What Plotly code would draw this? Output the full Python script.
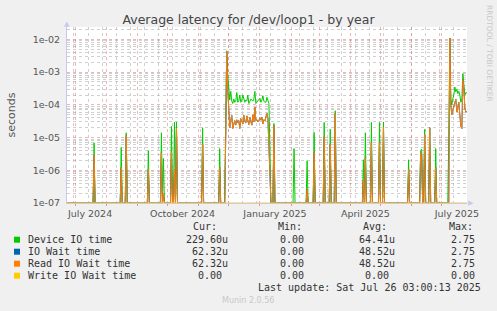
import pandas as pd
import plotly.graph_objects as go

# ---------------- data ----------------
TITLE = "Average latency for /dev/loop1 - by year"
RANGE_START = "2024-06-23 01:00"
RANGE_END = "2025-07-26 03:00"

# isolated one-day spikes (seconds)
spike_dates = ["2024-07-20", "2024-08-16", "2024-08-21", "2024-09-12", "2024-09-25",
               "2024-09-27", "2024-10-05", "2024-10-08", "2024-10-10", "2024-11-05",
               "2024-11-22", "2025-01-15", "2025-02-04", "2025-02-17", "2025-02-24",
               "2025-03-06", "2025-03-12", "2025-03-17", "2025-04-14", "2025-04-16",
               "2025-04-22", "2025-04-30", "2025-05-04", "2025-05-29", "2025-06-10",
               "2025-06-11", "2025-06-14", "2025-06-19", "2025-06-25"]
spike_device = [6.9e-6, 5.0e-6, 1.4e-5, 4.0e-6, 1.4e-5,
                2.3e-6, 2.2e-5, 3.0e-5, 3.0e-5, 2.0e-5,
                4.6e-6, 2.7e-5, 4.6e-6, 1.95e-6, 1.44e-5,
                2.9e-5, 1.8e-5, 6.6e-5, 2.1e-6, 1.4e-5,
                2.9e-5, 2.9e-5, 3.0e-5, 2.1e-6, 4.0e-6,
                4.4e-6, 1.78e-5, 2.0e-5, 4.6e-6]
spike_read = [2.9e-6, 1.2e-6, 1.15e-5, 1.07e-6, 3.5e-6,
              1.9e-7, 3.7e-6, 1.07e-6, 2.0e-5, 6.3e-6,
              1.2e-6, 2.3e-5, 0.0, 2.6e-7, 3.5e-6,
              1.05e-5, 6.3e-6, 5.5e-5, 5.0e-7, 2.4e-6,
              7.0e-6, 7.0e-6, 2.1e-5, 1.07e-6, 3.5e-6,
              3.0e-6, 1.25e-5, 2.0e-5, 1.2e-6]

# busy period Nov 2024 - Jan 2025 (daily, from 2024-11-28)
busy1_start = "2024-11-28"
busy1_device = [3.0e-5, 4.5e-3, 9.0e-4, 2.6e-4, 1.4e-4, 2.6e-4, 1.3e-4, 1.1e-4, 1.5e-4,
                1.2e-4, 1.3e-4, 2.4e-4, 1.2e-4, 1.3e-4, 2.0e-4, 1.2e-4, 1.4e-4, 2.0e-4,
                1.4e-4, 1.2e-4, 1.4e-4, 1.3e-4, 2.0e-4, 1.1e-4, 1.3e-4, 1.5e-4, 1.4e-4,
                1.3e-4, 1.5e-4, 2.6e-4, 1.1e-4, 1.2e-4, 1.4e-4, 1.5e-4, 1.6e-4, 1.2e-4,
                1.4e-4, 1.9e-4, 1.3e-4, 1.2e-4, 1.2e-4, 1.7e-4, 1.2e-4, 1.1e-4, 5.0e-6]
busy1_read = [1.0e-5, 4.4e-3, 3.0e-4, 4.0e-5, 2.0e-5, 3.3e-5, 4.8e-5, 1.9e-5, 2.6e-5,
              3.3e-5, 2.4e-5, 3.5e-5, 2.8e-5, 3.3e-5, 1.9e-5, 3.8e-5, 3.2e-5, 2.6e-5,
              4.8e-5, 3.0e-5, 2.8e-5, 4.6e-5, 3.3e-5, 2.5e-5, 4.2e-5, 3.3e-5, 2.4e-5,
              5.0e-5, 3.0e-5, 8.5e-5, 3.3e-5, 3.5e-5, 3.0e-5, 3.3e-5, 4.0e-5, 3.4e-5,
              4.2e-5, 2.6e-5, 3.5e-5, 3.2e-5, 4.0e-5, 5.5e-5, 3.8e-5, 6.0e-6, 1.0e-6]

# busy period July 2025 (daily, from 2025-07-08)
busy2_start = "2025-07-08"
busy2_device = [1.0e-5, 1.1e-2, 1.5e-4, 1.0e-4, 1.5e-4, 2.0e-4, 3.5e-4, 2.5e-4, 3.0e-4,
                2.2e-4, 2.6e-4, 2.0e-4, 1.2e-4, 1.5e-4, 9.0e-4, 4.5e-4, 2.0e-4, 2.4e-4,
                2.296e-4]
busy2_read = [0.0, 1.1e-2, 1.0e-4, 5.0e-5, 6.6e-5, 8.0e-5, 1.0e-4, 1.5e-4, 6.0e-5,
              9.0e-5, 1.2e-4, 5.0e-5, 2.2e-5, 1.9e-5, 6.0e-4, 3.0e-4, 8.0e-5, 6.0e-5,
              6.232e-5]

series_names = ["Device IO time", "IO Wait time", "Read IO Wait time", "Write IO Wait time"]
series_colors = ["#00CC00", "#0066B3", "#FF8000", "#FFCC00"]
cur_vals = ["229.60u", " 62.32u", " 62.32u", "  0.00 "]
min_vals = ["0.00", "0.00", "0.00", "0.00"]
avg_vals = ["64.41u", "48.52u", "48.52u", "0.00"]
max_vals = ["2.75", "2.75", "2.75", "0.00"]

month_ticks = pd.date_range("2024-07-01", "2025-07-01", freq="MS")
label_ticks = ["2024-07-16", "2024-10-16", "2025-01-16", "2025-04-16", "2025-07-16"]
label_text = ["July 2024", "October 2024", "January 2025", "April 2025", "July 2025"]
week_ticks = pd.date_range("2024-06-30", "2025-07-26", freq="14D")
y_major = [1e-7, 1e-6, 1e-5, 1e-4, 1e-3, 1e-2]
y_major_text = ["1e-07", "1e-06", "1e-05", "1e-04", "1e-03", "1e-02"]
y_minor = [k * m for m in y_major for k in range(2, 10)]

# ---------------- build daily series ----------------
days = pd.date_range("2024-06-22", "2025-07-26", freq="D")
device = pd.Series(0.0, index=days)
read = pd.Series(0.0, index=days)
for d, dv, rv in zip(spike_dates, spike_device, spike_read):
    device[pd.Timestamp(d)] = dv
    read[pd.Timestamp(d)] = rv
for start, dvals, rvals in [(busy1_start, busy1_device, busy1_read),
                            (busy2_start, busy2_device, busy2_read)]:
    idx = pd.date_range(start, periods=len(dvals), freq="D")
    device[idx] = dvals
    read[idx] = rvals
iowait = read.copy()
write = pd.Series(0.0, index=days)

FLOOR = 1e-7  # zero values sit on the bottom edge of the log axis (as rrdtool draws them)

fig = go.Figure()
for name, s, col in zip(series_names, [device, iowait, read, write], series_colors):
    fig.add_trace(go.Scatter(x=s.index, y=s.clip(lower=FLOOR), mode="lines", name=name,
                             line=dict(color=col, width=1), hoverinfo="skip",
                             xaxis="x2" if name.startswith("Write") else "x"))

L, R, T, B = 67, 30, 27, 108
W, H = 497, 311
PW, PH = W - L - R, H - T - B


def px(x):
    return (x - L) / PW


def py(y):
    return (T + PH - y) / PH


grid_red = "rgba(230,120,120,0.55)"
grid_gray = "rgba(170,170,170,0.55)"

fig.update_layout(
    width=W, height=H, margin=dict(l=L, r=R, t=T, b=B),
    paper_bgcolor="#F0F0F0", plot_bgcolor="#FFFFFF", showlegend=False,
    title=dict(text=TITLE, x=0.5, xref="container", xanchor="center",
               y=1 - 19.5 / H, yref="container", yanchor="middle",
               font=dict(family="DejaVu Sans", size=12.5, color="#444444")),
    xaxis=dict(type="date", range=[RANGE_START, RANGE_END], tickmode="array",
               tickvals=list(month_ticks), showticklabels=False,
               showgrid=True, gridcolor=grid_red, griddash="dot", gridwidth=1,
               ticks="outside", ticklen=2, tickcolor="rgba(230,120,120,0.8)",
               minor=dict(tickmode="array", tickvals=list(week_ticks), showgrid=True,
                          gridcolor=grid_gray, griddash="dot", gridwidth=1),
               showline=True, linecolor="#C8C8F0", zeroline=False, fixedrange=True),
    xaxis2=dict(type="date", range=[RANGE_START, RANGE_END], overlaying="x", anchor="y",
                side="bottom", tickmode="array", tickvals=label_ticks, ticktext=label_text,
                showgrid=False, ticks="", ticklabelstandoff=3,
                tickfont=dict(family="DejaVu Sans", size=9.5, color="#555555")),
    yaxis=dict(type="log", range=[-7, -1.62], tickmode="array", tickvals=y_major,
               ticktext=y_major_text, showgrid=True, gridcolor=grid_red, griddash="dot",
               gridwidth=1, ticks="", ticklabelstandoff=4,
               tickfont=dict(family="DejaVu Sans", size=9.5, color="#555555"),
               minor=dict(tickmode="array", tickvals=y_minor, showgrid=True,
                          gridcolor=grid_gray, griddash="dot", gridwidth=1),
               showline=True, linecolor="#C8C8F0", zeroline=False,
               title=dict(text="seconds", standoff=14,
                          font=dict(family="DejaVu Sans", size=11, color="#555555"))),
)

ann = []


def text(x, y, s, anchor="left", size=10, color="#333333", family="DejaVu Sans Mono", angle=0):
    ann.append(dict(x=px(x), y=py(y), xref="paper", yref="paper", text=s, showarrow=False,
                    xanchor=anchor, yanchor="middle", textangle=angle,
                    font=dict(family=family, size=size, color=color)))


# axis arrows
text(67, 24, "▲", anchor="center", size=7, color="#C8C8F0", family="DejaVu Sans")
text(470.5, 203, "▶", anchor="center", size=7, color="#C8C8F0", family="DejaVu Sans")
# rrdtool credit
ann.append(dict(x=(490 - L) / PW, y=py(53), xref="paper", yref="paper",
                text="RRDTOOL / TOBI OETIKER", showarrow=False, textangle=90,
                xanchor="center", yanchor="middle",
                font=dict(family="DejaVu Sans", size=7.5, color="#C8C8C8")))

# legend table
hy = 226.7
for h, x in zip(["Cur:", "Min:", "Avg:", "Max:"], [190.7, 276, 361, 446.7]):
    text(x, hy, h)
row_y = [239.7, 251.7, 263.7, 275.7]
for i, name in enumerate(series_names):
    y = row_y[i]
    text(26, y, name)
    text(184.3, y, cur_vals[i].replace(" ", "&nbsp;"))
    text(306, y, min_vals[i], anchor="right")
    text(397, y, avg_vals[i] if avg_vals[i].endswith("u") else avg_vals[i] + "&nbsp;", anchor="right")
    text(477, y, max_vals[i], anchor="right")
text(483, 287.7, "Last update: Sat Jul 26 03:00:13 2025", anchor="right")
text(248, 300, "Munin 2.0.56", anchor="center", size=8, color="#C8C8C8", family="DejaVu Sans")

shapes = []
for i, col in enumerate(series_colors):
    y = row_y[i]
    shapes.append(dict(type="rect", xref="paper", yref="paper", x0=px(14), x1=px(20),
                       y0=py(y + 3), y1=py(y - 3), fillcolor=col, line=dict(width=0)))

fig.update_layout(annotations=ann, shapes=shapes)
fig.write_html("out.html")
